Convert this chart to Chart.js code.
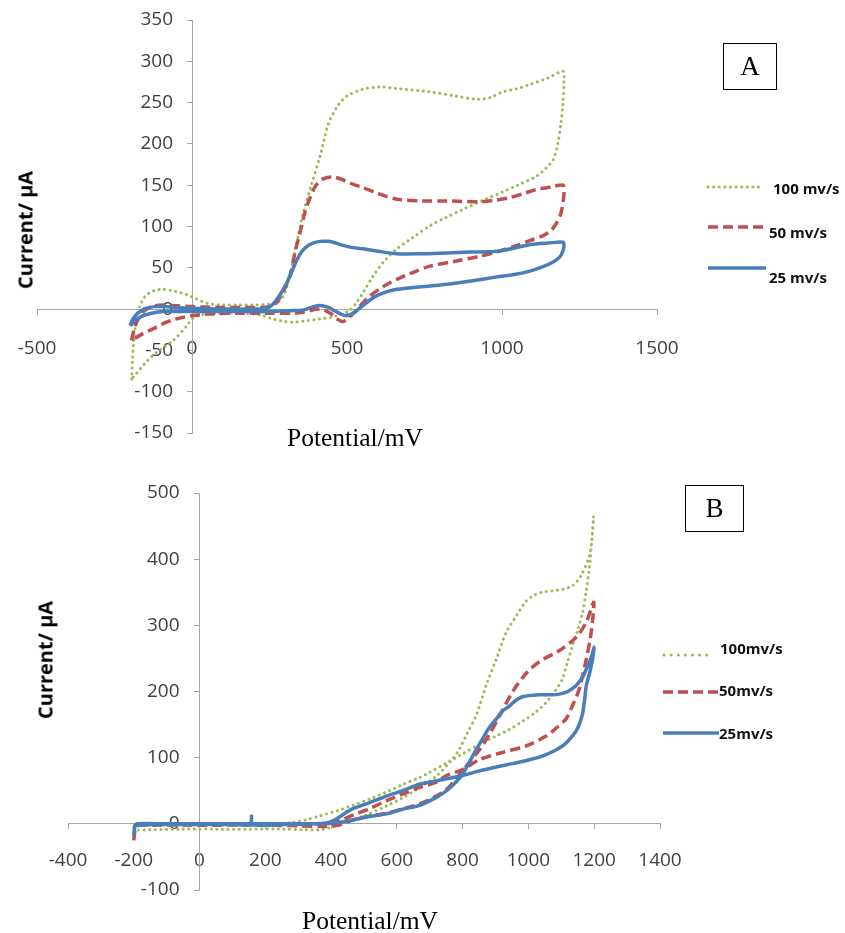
<!DOCTYPE html>
<html>
<head>
<meta charset="utf-8">
<script src="https://cdn.jsdelivr.net/npm/chart.js@4.4.1/dist/chart.umd.min.js"></script>
<style>
  html, body { margin:0; padding:0; background:#fff; }
  body { width:845px; height:933px; position:relative; overflow:hidden; font-family:"Open Sans", sans-serif; }
  canvas { position:absolute; left:0; }
  #ca { top:0; }
  #cb { top:460px; }
  .ytitle { position:absolute; transform:translate(-50%,-50%) rotate(-90deg); font:bold 20px "Open Sans", sans-serif; color:#000; white-space:nowrap; }
  .xtitle { position:absolute; font:25.5px "Liberation Serif", "Times New Roman", serif; color:#000; white-space:nowrap; line-height:1; }
  .box { position:absolute; border:1.5px solid #000; box-sizing:border-box; font:27px "Liberation Serif", "Times New Roman", serif; display:flex; align-items:center; justify-content:center; }
  .leg { position:absolute; font:bold 15px "Open Sans", sans-serif; color:#111; white-space:nowrap; line-height:1; transform:translateY(-50%); }
  svg.ls { position:absolute; overflow:visible; }
</style>
</head>
<body>
<canvas id="ca" width="845" height="460"></canvas>
<canvas id="cb" width="845" height="473"></canvas>

<div class="ytitle" style="left:25px;top:230px;">Current/ µA</div>
<div class="ytitle" style="left:45px;top:660px;">Current/ µA</div>
<div class="xtitle" style="left:287px;top:425px;">Potential/mV</div>
<div class="xtitle" style="left:302px;top:908px;">Potential/mV</div>
<div class="box" style="left:723px;top:43px;width:54px;height:47px;">A</div>
<div class="box" style="left:685px;top:485px;width:59px;height:47px;">B</div>

<svg class="ls" style="left:0;top:0;" width="845" height="933">
  <line x1="708" y1="187" x2="762" y2="187" stroke="#9BBB59" stroke-width="3" stroke-linecap="round" stroke-dasharray="0.1 5.5"/>
  <line x1="708" y1="227" x2="766" y2="227" stroke="#C0504D" stroke-width="3.5" stroke-dasharray="10 5"/>
  <line x1="708" y1="268" x2="766" y2="268" stroke="#4A7EBB" stroke-width="3.5"/>
  <line x1="664" y1="655" x2="713" y2="655" stroke="#9BBB59" stroke-width="3" stroke-linecap="round" stroke-dasharray="0.1 7"/>
  <line x1="663" y1="692" x2="719" y2="692" stroke="#C0504D" stroke-width="3.5" stroke-dasharray="10 5"/>
  <line x1="663" y1="733" x2="719" y2="733" stroke="#4A7EBB" stroke-width="3.5"/>
</svg>
<div class="leg" style="left:773px;top:188px;">100 mv/s</div>
<div class="leg" style="left:769px;top:232px;">50 mv/s</div>
<div class="leg" style="left:769px;top:277px;">25 mv/s</div>
<div class="leg" style="left:720px;top:648px;">100mv/s</div>
<div class="leg" style="left:719px;top:690px;">50mv/s</div>
<div class="leg" style="left:719px;top:733px;">25mv/s</div>

<script>
// ---------- Chart A : tick values ----------
const aXTicks = [-500, 0, 500, 1000, 1500];
const aYTicks = [-150, -100, -50, 0, 50, 100, 150, 200, 250, 300, 350];
// ---------- Chart B : tick values ----------
const bXTicks = [-400, -200, 0, 200, 400, 600, 800, 1000, 1200, 1400];
const bYTicks = [-100, 0, 100, 200, 300, 400, 500];

const seriesNames = ['100 mv/s', '50 mv/s', '25 mv/s'];

// ---------- Chart A data (Potential mV / Current µA) ----------
const aPot100 = [-195,-192,-188,-180,-168,-150,-125,-95,-60,-20,10,50,100,150,200,250,280,300,320,340,360,385,413,440,470,500,550,606,660,768,850,919,960,1003,1050,1090,1150,1197,
  1200,1197,1190,1180,1165,1140,1112,1050,1003,940,875,820,768,710,661,620,584,555,531,510,490,460,413,370,330,300,261,219,150,80,30,0,-16,-61,-113,-150,-184,-195];
const aCur100 = [-85,-62,-38,-14,4,16,22,24,22,18,13,7,5,5,5,6,9,20,48,84,118,150,185,224,246,258,266,269,267,263,258,254,256,263,267,272,280,288,
  278,250,225,200,181,170,161,150,142,132,121,111,101,86,73,58,40,22,8,-1,-5,-9,-12,-14,-16,-15,-12,-7,-5,-5,-7,-12,-20,-38,-52,-65,-80,-85];

const aPot50 = [-195,-185,-170,-150,-120,-90,-50,0,100,200,250,273,295,316,333,348,365,381,400,425,455,490,520,552,600,661,740,822,929,980,1026,1070,1112,1160,1197,
  1200,1197,1190,1177,1160,1133,1090,1048,990,929,850,768,710,661,620,574,550,531,510,487,468,450,425,403,380,350,326,250,150,50,0,-30,-61,-95,-126,-160,-195];
const aCur50 = [-38,-22,-10,-1,4,5,4,3,2,2,3,8,22,40,70,92,118,135,150,158,160,156,151,147,140,133,131,131,130,132,135,140,145,148,150,
  142,130,116,105,96,89,83,77,70,64,58,52,44,36,28,16,7,-1,-9,-15,-12,-6,-1,0,-2,-4,-5,-5,-5,-6,-8,-10,-13,-18,-24,-30,-38];

const aPot25 = [-200,-190,-178,-160,-146,-120,-93,-50,0,100,200,240,261,285,306,325,339,355,371,390,413,435,455,480,510,552,600,661,740,822,900,984,1040,1090,1150,1197,
  1200,1196,1186,1165,1130,1090,1040,984,900,822,740,661,620,595,574,550,531,515,500,480,460,440,420,403,385,360,316,250,150,50,0,-50,-93,-130,-158,-180,-200];
const aCur25 = [-20,-12,-6,-1,1,3,3,2,1,0,0,1,6,18,32,48,60,70,76,80,82,82,81,78,75,73,70,67,67,68,69,70,74,78,80,81,
  77,70,63,57,51,46,42,39,34,30,27,24,20,16,11,4,-2,-6,-8,-6,-2,2,4,4,2,-1,-2,-3,-3,-3,-3,-3,-3,-5,-8,-13,-20];

// ---------- Chart B data ----------
const bPot100 = [-200,-190,-150,-50,50,150,250,320,365,400,446,500,568,620,669,720,769,790,812,842,872,903,933,963,990,1012,1040,1073,1100,1134,1160,1185,1193,1198,
  1193,1185,1175,1165,1150,1134,1118,1103,1080,1055,1020,982,940,903,851,800,751,700,669,620,568,520,466,420,365,325,280,200,100,0,-100,-180,-198];
const bCur100 = [-5,-9,-9,-8,-8,-8,-8,-9,-9,-5,3,12,27,40,55,72,98,113,135,165,210,250,290,314,335,344,350,352,354,360,375,405,430,464,
  430,385,350,320,293,269,243,219,200,184,168,155,142,133,120,106,92,78,70,60,48,38,28,20,12,6,2,0,0,0,0,-1,-3];

const bPot50 = [-200,-196,-188,-150,0,200,300,386,430,466,517,568,620,669,720,751,780,812,851,881,912,951,994,1033,1094,1145,1176,1198,
  1196,1188,1176,1165,1155,1135,1115,1085,1055,994,921,851,800,751,720,669,617,568,517,466,426,390,350,200,0,-150,-190];
const bCur50 = [-25,-10,-3,-2,-2,-2,-3,-4,-1,6,12,16,23,30,42,52,68,88,112,135,163,199,228,245,262,282,305,335,
  312,280,249,225,204,180,159,145,133,118,108,97,82,73,63,55,45,35,23,13,5,1,0,0,0,0,-2];

const bPot25 = [-200,-197,-190,-100,0,100,155,158,161,250,350,400,447,517,568,617,669,720,751,781,800,821,840,860,880,903,920,942,960,982,1033,1070,1094,1120,1145,1165,1176,1190,1200,
  1195,1186,1176,1170,1164,1150,1134,1110,1085,1050,1012,951,912,851,800,751,700,669,617,568,517,466,430,404,380,300,200,100,0,-100,-190,-200];
const bCur25 = [-18,-5,-2,-1,-1,-1,-1,12,-1,-1,0,1,4,11,15,22,28,40,50,64,75,94,111,128,145,159,170,178,186,192,195,195,196,200,209,222,234,250,267,
  249,228,209,185,165,145,133,120,112,104,98,91,87,80,73,68,63,60,50,42,32,23,12,4,1,0,0,0,0,0,0,-5];

// ---------- styles ----------
const styles = [
  { color:'#9BBB59', width:3, dash:[0.1, 5.5], cap:'round' },
  { color:'#C0504D', width:3.5, dash:[10, 5], cap:'butt' },
  { color:'#4A7EBB', width:3.5, dash:[], cap:'butt' }
];

function zip(xs, ys) { return xs.map((x, i) => ({ x: x, y: ys[i] })); }

function makeDatasets(pairs) {
  return pairs.map((p, i) => ({
    label: seriesNames[i],
    data: zip(p[0], p[1]),
    showLine: true,
    fill: false,
    borderColor: styles[i].color,
    borderWidth: styles[i].width,
    borderDash: styles[i].dash,
    borderCapStyle: styles[i].cap,
    borderJoinStyle: 'round',
    pointRadius: 0,
    pointHoverRadius: 0,
    tension: 0.3
  })).reverse();
}

function zeroPad(scale) {
  scale.paddingLeft = 0; scale.paddingRight = 0; scale.paddingTop = 0; scale.paddingBottom = 0;
}

function axisOpts(ticks, isX, lblPad) {
  return {
    type: 'linear',
    position: isX ? { y: 0 } : { x: 0 },
    min: ticks[0],
    max: ticks[ticks.length - 1],
    afterBuildTicks: (s) => { s.ticks = ticks.map(v => ({ value: v })); },
    ticks: {
      autoSkip: false,
      maxRotation: 0,
      padding: lblPad,
      color: '#404040',
      font: { family: '"Open Sans", sans-serif', size: 19 },
      callback: (v) => String(v)
    },
    grid: { drawOnChartArea: false, drawTicks: true, tickLength: 5, color: '#A6A6A6', lineWidth: 1 },
    border: { display: true, color: '#A6A6A6', width: 1 },
    afterFit: zeroPad
  };
}

// shift the y tick labels left of the centred vertical axis
function yLabelShift(px) {
  return {
    id: 'yLabelShift',
    beforeDraw(chart) {
      const s = chart.scales.y;
      if (!s._shiftPatched) {
        const orig = s._computeLabelItems;
        s._computeLabelItems = function (ca) {
          const items = orig.call(this, ca);
          items.forEach(it => { it.options.translation[0] -= px; });
          return items;
        };
        s._shiftPatched = true;
        s._labelItems = null;
      }
    }
  };
}

function makeChart(id, datasets, xt, yt, pad, xPad, yShift) {
  return new Chart(document.getElementById(id), {
    type: 'scatter',
    data: { datasets: datasets },
    options: {
      responsive: false,
      animation: false,
      events: [],
      layout: { padding: pad },
      plugins: { legend: { display: false }, tooltip: { enabled: false } },
      scales: {
        x: axisOpts(xt, true, xPad),
        y: axisOpts(yt, false, 0)
      }
    },
    plugins: [yLabelShift(yShift)]
  });
}

makeChart('ca', makeDatasets([[aPot100, aCur100], [aPot50, aCur50], [aPot25, aCur25]]),
  aXTicks, aYTicks, { left: 37, right: 188, top: 20, bottom: 27 }, 23, 19);
makeChart('cb', makeDatasets([[bPot100, bCur100], [bPot50, bCur50], [bPot25, bCur25]]),
  bXTicks, bYTicks, { left: 68, right: 185, top: 33, bottom: 43 }, 20, 20);
</script>
</body>
</html>
